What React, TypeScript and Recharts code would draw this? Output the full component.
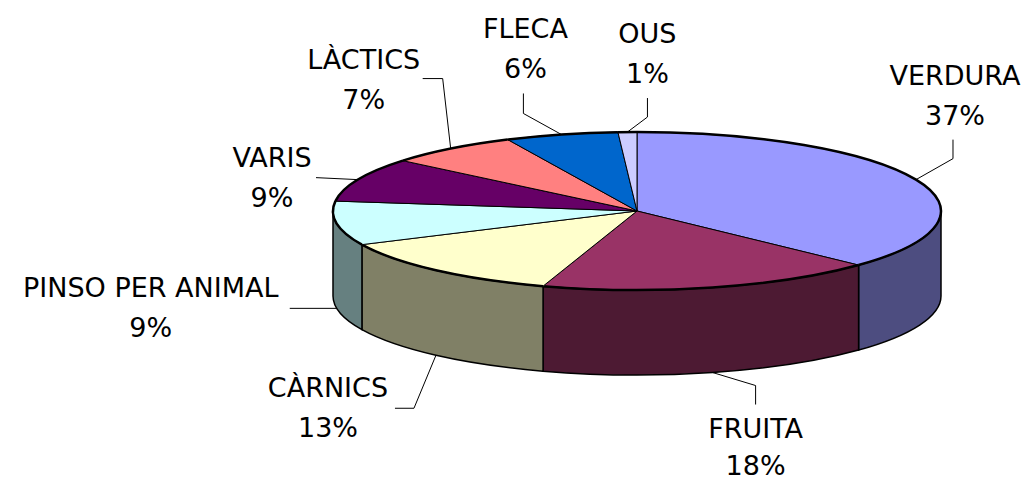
import React from "react";
import { PieChart, Pie } from "recharts";

// Spending share by product family
const categories = [
  "VERDURA",
  "FRUITA",
  "CÀRNICS",
  "PINSO PER ANIMAL",
  "VARIS",
  "LÀCTICS",
  "FLECA",
  "OUS",
];
const shares = [37, 18, 13, 9, 9, 7, 6, 1];

// Excel-like palette: top faces and the darker side walls
const topColors = ["#9999FF", "#993366", "#FFFFCC", "#CCFFFF", "#660066", "#FF8080", "#0066CC", "#CCCCFF"];
const sideColors = ["#4D4D80", "#4D1A33", "#808066", "#668080", "#330033", "#804040", "#003366", "#666680"];

const data = categories.map((name, i) => ({ name, value: shares[i] }));

const TILT = 79 / 304; // vertical squash of the disc
const DEPTH = 85; // thickness of the disc in px
const FONT = { fontFamily: "DejaVu Sans", fontSize: 27, fill: "#000" };

// leader line points and label text position, relative to the rim anchor
const labelLayout: { leader: number[][]; text: number[] }[] = [
  { leader: [[37, -21], [37, -40]], text: [39, -95] },
  { leader: [[43, 13], [43, 32]], text: [43, 65] },
  { leader: [[-22, 53], [-41, 53]], text: [-108, 42] },
  { leader: [[-47, 0]], text: [-186, -11] },
  { leader: [[-42, -2]], text: [-86, -13] },
  { leader: [[-8, -70], [-28, -70]], text: [-87, -80] },
  { leader: [[-38, -21], [-38, -41]], text: [-36, -96] },
  { leader: [[20, -15], [20, -34]], text: [20, -89] },
];

const rad = (a: number) => (a * Math.PI) / 180;

function ellipsePt(cx: number, cy: number, rx: number, a: number, dy = 0) {
  const ry = rx * TILT;
  return [cx + rx * Math.cos(rad(a)), cy - ry * Math.sin(rad(a)) + dy];
}

function SideWall(props: any) {
  const { cx, cy, outerRadius, startAngle, endAngle, index } = props;
  const s = Math.max(startAngle, endAngle);
  const e = Math.min(startAngle, endAngle);
  // only the front half (-180..0) of the rim is visible
  const hi = Math.min(s, 0);
  const lo = Math.max(e, -180);
  if (hi <= lo) return <g key={`side-${index}`} />;
  const rx = outerRadius;
  const ry = rx * TILT;
  const [x1, y1] = ellipsePt(cx, cy, rx, hi);
  const [x2, y2] = ellipsePt(cx, cy, rx, lo);
  const d =
    `M${x1},${y1} A${rx},${ry} 0 0 1 ${x2},${y2} ` +
    `L${x2},${y2 + DEPTH} A${rx},${ry} 0 0 0 ${x1},${y1 + DEPTH} Z`;
  return (
    <g key={`side-${index}`}>
      <path d={d} fill={sideColors[index]} stroke="#000" strokeWidth={1.5} />
    </g>
  );
}

function TopFace(props: any) {
  const { cx, cy, outerRadius, startAngle, endAngle, index } = props;
  const s = Math.max(startAngle, endAngle);
  const e = Math.min(startAngle, endAngle);
  const rx = outerRadius;
  const ry = rx * TILT;
  const [x1, y1] = ellipsePt(cx, cy, rx, s);
  const [x2, y2] = ellipsePt(cx, cy, rx, e);
  const large = s - e > 180 ? 1 : 0;
  const arc = `A${rx},${ry} 0 ${large} 1 ${x2},${y2}`;
  return (
    <g key={`top-${index}`}>
      <path d={`M${cx},${cy} L${x1},${y1} ${arc} Z`} fill={topColors[index]} stroke="#000" strokeWidth={1} />
      <path d={`M${x1},${y1} ${arc}`} fill="none" stroke="#000" strokeWidth={2.5} />
    </g>
  );
}

function SliceLabel(props: any) {
  const { cx, cy, outerRadius, midAngle, index, name, percent } = props;
  const lay = labelLayout[index];
  const front = Math.sin(rad(midAngle)) < 0;
  const [ax, ay] = ellipsePt(cx, cy, outerRadius, midAngle, front ? DEPTH : 0);
  const pts = [[ax, ay], ...lay.leader.map(([dx, dy]) => [ax + dx, ay + dy])];
  const tx = ax + lay.text[0];
  const ty = ay + lay.text[1];
  return (
    <g key={`label-${index}`}>
      <polyline points={pts.map((p) => p.join(",")).join(" ")} fill="none" stroke="#000" strokeWidth={1} />
      <text x={tx} y={ty} textAnchor="middle" {...FONT}>
        <tspan x={tx}>{name}</tspan>
        <tspan x={tx} dy={index === 1 ? 37 : 40}>{`${Math.round(percent * 100)}%`}</tspan>
      </text>
    </g>
  );
}

export default function App() {
  const pieProps = {
    data,
    dataKey: "value",
    nameKey: "name",
    cx: 637,
    cy: 211,
    outerRadius: 304,
    startAngle: 90,
    endAngle: -270,
    fill: "none",
    stroke: "none",
    labelLine: false,
    isAnimationActive: false,
    legendType: "none" as const,
  };
  return (
    <div style={{ position: "absolute", left: 0, top: 0, width: 1028, height: 483, background: "#fff" }}>
      <PieChart width={1028} height={483} margin={{ top: 0, right: 0, bottom: 0, left: 0 }}>
        <Pie {...pieProps} label={SideWall} />
        <Pie {...pieProps} label={TopFace} />
        <Pie {...pieProps} label={SliceLabel} />
      </PieChart>
    </div>
  );
}
